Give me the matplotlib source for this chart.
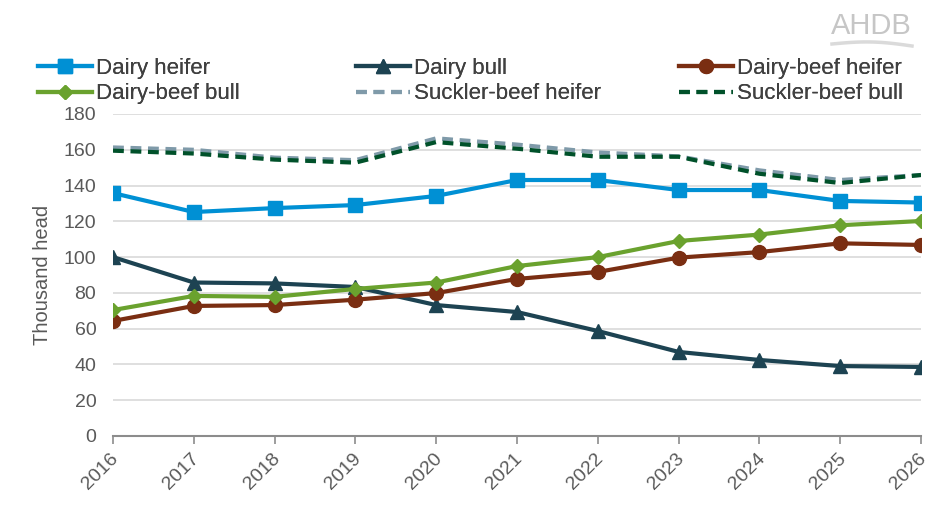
import matplotlib
matplotlib.use("Agg")
import matplotlib.pyplot as plt
import numpy as np
from matplotlib.lines import Line2D
from matplotlib.transforms import ScaledTranslation

plt.rcParams['font.family'] = ['Liberation Sans', 'DejaVu Sans']

years = [2016, 2017, 2018, 2019, 2020, 2021, 2022, 2023, 2024, 2025, 2026]
dairy_heifer = [135.8, 125.2, 127.4, 129.1, 134.2, 143.1, 143.1, 137.5, 137.5, 131.4, 130.5]
dairy_bull = [100.0, 85.8, 85.3, 83.3, 73.2, 69.3, 58.7, 47.0, 42.5, 39.1, 38.6]
dairy_beef_heifer = [64.3, 72.7, 73.2, 76.2, 79.9, 87.8, 91.7, 99.7, 102.8, 107.7, 106.8]
dairy_beef_bull = [70.4, 78.3, 77.8, 82.2, 85.8, 95.0, 100.0, 109.0, 112.6, 117.8, 120.2]
suckler_beef_heifer = [161.3, 160.0, 155.6, 154.2, 166.4, 162.9, 158.5, 156.3, 148.5, 143.1, 145.9]
suckler_beef_bull = [159.5, 157.9, 154.5, 152.8, 164.3, 160.6, 156.1, 156.1, 146.6, 141.4, 145.9]

labels = ["Dairy heifer", "Dairy bull", "Dairy-beef heifer",
          "Dairy-beef bull", "Suckler-beef heifer", "Suckler-beef bull"]

fig = plt.figure(figsize=(9.29, 5.17), dpi=100)
ax = fig.add_axes([113/929, 1-436/517, (921-113)/929, (436-114)/517])

lw = 3.0
h_dh, = ax.plot(years, dairy_heifer, color='#0090D4', lw=lw, marker='s', ms=10, zorder=5)
h_db, = ax.plot(years, dairy_bull, color='#1D4352', lw=lw, marker='^', ms=10, zorder=5)
h_dbh, = ax.plot(years, dairy_beef_heifer, color='#7A2E12', lw=lw, marker='o', ms=10, zorder=5)
h_dbb, = ax.plot(years, dairy_beef_bull, color='#6AA22E', lw=lw, marker='D', ms=7.5, zorder=6)
h_sh, = ax.plot(years, suckler_beef_heifer, color='#7F9AA9', lw=lw, dashes=(2.6, 1.6), zorder=4)
h_sb, = ax.plot(years, suckler_beef_bull, color='#00512A', lw=lw, dashes=(2.6, 1.6), zorder=4.5)

ax.set_xlim(2016, 2026)
ax.set_ylim(0, 180)
ax.set_yticks(range(0, 181, 20))
ax.set_xticks(years)
ax.set_xticklabels([])
lab_tr = ax.get_xaxis_transform() + ScaledTranslation(-3/100, -14/100, fig.dpi_scale_trans)
for yr in years:
    ax.text(yr, 0, str(yr), transform=lab_tr, rotation=45, ha='right', va='top',
            rotation_mode='anchor', fontsize=14, color='#595959', clip_on=False)
ax.grid(axis='y', color='#D9D9D9', lw=1.2)
ax.set_axisbelow(True)
for s in ['left', 'right', 'top']:
    ax.spines[s].set_visible(False)
ax.spines['bottom'].set_color('#8C8C8C')
ax.spines['bottom'].set_linewidth(1.5)
ax.tick_params(axis='y', length=0, labelsize=14, colors='#595959', pad=12)
ax.tick_params(axis='x', length=6, width=1.2, color='#8C8C8C')
ax.set_ylabel("Thousand head", fontsize=14.5, color='#595959', labelpad=8)

cols = [(h_dh, h_dbb, labels[0], labels[3], 29),
        (h_db, h_sh, labels[1], labels[4], 347),
        (h_dbh, h_sb, labels[2], labels[5], 670)]
for ha, hb, la, lb, xpx in cols:
    leg = fig.legend([ha, hb], [la, lb], ncol=1, loc='upper left',
                     bbox_to_anchor=(xpx/929, 1-49/517), frameon=False, fontsize=16,
                     handlelength=2.45, handletextpad=0.15,
                     labelspacing=0.2, labelcolor='#404040', borderaxespad=0)
    fig.add_artist(leg)

fig.text(912/929, 1-26/517, "AHDB", ha='right', va='center', fontsize=21,
         color='#C6C6C6', fontstretch='condensed')
t = np.linspace(0, 1, 50)
sx = (832 + t * 80) / 929
sy = 1 - (44 - 3 * np.sin(np.pi * t) + 2 * t) / 517
fig.add_artist(Line2D(sx, sy, transform=fig.transFigure, color='#DADADA', lw=2.5))

fig.savefig("out.png", dpi=100)
